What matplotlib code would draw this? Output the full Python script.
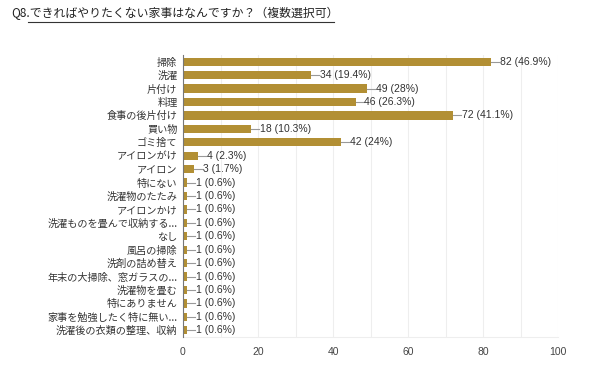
import matplotlib
matplotlib.use("Agg")
import matplotlib.pyplot as plt
from matplotlib.lines import Line2D

plt.rcParams['font.family'] = ['Noto Sans CJK JP', 'DejaVu Sans']

title = "Q8.できればやりたくない家事はなんですか？（複数選択可）"
categories = ["掃除", "洗濯", "片付け", "料理", "食事の後片付け", "買い物", "ゴミ捨て",
              "アイロンがけ", "アイロン", "特にない", "洗濯物のたたみ", "アイロンかけ",
              "洗濯ものを畳んで収納する...", "なし", "風呂の掃除", "洗剤の詰め替え",
              "年末の大掃除、窓ガラスの...", "洗濯物を畳む", "特にありません",
              "家事を勉強したく特に無い...", "洗濯後の衣類の整理、収納"]
values = [82, 34, 49, 46, 72, 18, 42, 4, 3, 1, 1, 1, 1, 1, 1, 1, 1, 1, 1, 1, 1]
percents = ["46.9%", "19.4%", "28%", "26.3%", "41.1%", "10.3%", "24%", "2.3%", "1.7%",
            "0.6%", "0.6%", "0.6%", "0.6%", "0.6%", "0.6%", "0.6%", "0.6%", "0.6%",
            "0.6%", "0.6%", "0.6%"]
xticks = [0, 20, 40, 60, 80, 100]

num_font = ['Liberation Sans', 'Noto Sans CJK JP']

fig = plt.figure(figsize=(5.9, 3.71), dpi=100)
ax = fig.add_axes([183/590, 1-337/371, 375/590, 282/371])

n = len(categories)
ypos = list(range(n))
bar_color = '#b28f34'
ax.barh(ypos, values, height=0.62, color=bar_color, zorder=3)
ax.set_ylim(n - 0.5, -0.5)
ax.set_xlim(0, 100)
ax.set_yticks(ypos)
ax.set_yticklabels(categories, fontsize=7.3, color='#333333')
ax.set_xticks(xticks)
ax.set_xticklabels([str(t) for t in xticks], fontsize=7.5, color='#444444',
                   family=num_font)
ax.set_xticks(range(0, 101, 10), minor=True)
ax.grid(axis='x', which='both', color='#eeeeee', linewidth=0.8, zorder=0)
ax.tick_params(axis='both', which='both', length=0, pad=4)
ax.tick_params(axis='x', which='both', pad=7)
for s in ['top', 'right']:
    ax.spines[s].set_visible(False)
ax.spines['bottom'].set_color('#eeeeee')
ax.spines['left'].set_color('#777777')
ax.spines['left'].set_zorder(4)

for y, v, p in zip(ypos, values, percents):
    ax.plot([v, v + 2.2], [y, y], color='#999999', linewidth=0.8, zorder=3, clip_on=False)
    ax.text(v + 2.4, y, f"{v} ({p})", va='center', ha='left', fontsize=7.5,
            color='#333333', zorder=4, family=num_font)

fig.text(11/590, 1-13/371, title, fontsize=8.55, color='#222222', va='center', ha='left')
fig.add_artist(Line2D([28/590, 334/590], [1-22/371, 1-22/371], color='#333333',
                      linewidth=0.8, transform=fig.transFigure))

fig.savefig("out.png", dpi=100, facecolor='white')
